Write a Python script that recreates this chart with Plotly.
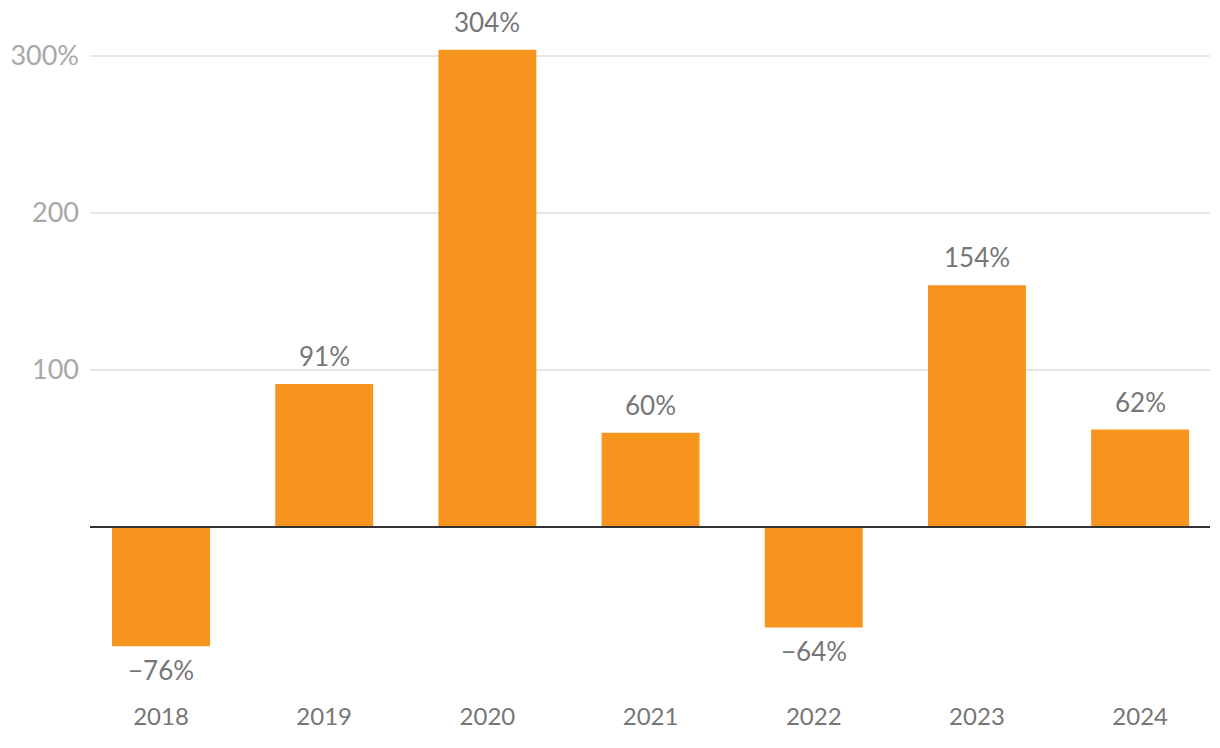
import plotly.graph_objects as go

years = ["2018", "2019", "2020", "2021", "2022", "2023", "2024"]
values = [-76, 91, 304, 60, -64, 154, 62]
labels = ["\u221276%", "91%", "304%", "60%", "\u221264%", "154%", "62%"]
ytick_vals = [100, 200, 300]
ytick_text = ["100", "200", "300%"]

fig = go.Figure(go.Bar(
    x=years, y=values,
    marker=dict(color="#f7941e", line=dict(width=0)),
    width=0.6, cliponaxis=False, hoverinfo="x+y",
))

for i, (v, lab) in enumerate(zip(values, labels)):
    pos = v >= 0
    fig.add_annotation(
        x=i, y=v, xref="x", yref="y", text=lab, showarrow=False,
        yanchor="bottom" if pos else "top",
        yshift=10 if pos else -6,
        font=dict(family="Lato", size=26, color="#767676"),
    )

fig.add_shape(
    type="line", xref="x domain", yref="y", x0=0, x1=1, y0=0, y1=0,
    line=dict(color="#333333", width=2), layer="above",
)

fig.update_layout(
    width=1220, height=748,
    margin=dict(l=90, r=10, t=25, b=48),
    plot_bgcolor="white", paper_bgcolor="white",
    showlegend=False,
    font=dict(family="Lato"),
    xaxis=dict(
        type="category",
        range=[-0.435, 6.428], showgrid=False, showline=False, ticks="",
        tickfont=dict(family="Lato", size=24, color="#767676"),
    ),
    yaxis=dict(
        range=[-110.2, 319.7], tickvals=ytick_vals, ticktext=ytick_text,
        showgrid=True, gridcolor="#e6e6e6", gridwidth=1.5,
        zeroline=False,
        showline=False, ticks="",
        tickfont=dict(family="Lato", size=27, color="#a8a8a8"),
        ticklabelstandoff=10,
    ),
)

fig.write_html("out.html")
